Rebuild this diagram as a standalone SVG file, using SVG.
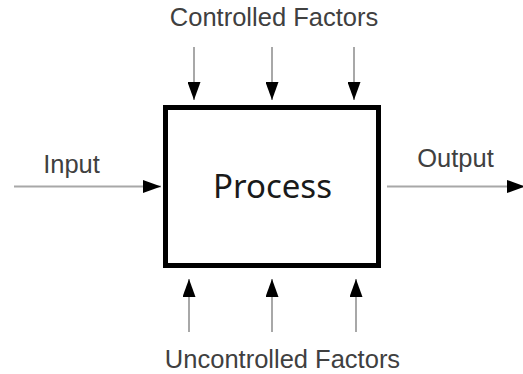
<svg xmlns="http://www.w3.org/2000/svg" width="523" height="374" viewBox="0 0 523 374">
<style>
.lbl{font-family:"Liberation Sans",Arial,sans-serif;font-size:25.5px;fill:#404040;text-anchor:middle}
.proc{font-family:"Noto Sans","Open Sans",sans-serif;font-size:33px;fill:#1a1a1a;text-anchor:middle}
.box{fill:#fff;stroke:#000;stroke-width:5}
.conn{stroke:#a8a8a8;stroke-width:2;fill:none;marker-end:url(#arr)}
</style>
<defs>
<marker id="arr" viewBox="0 0 18 13" refX="18" refY="6.5" markerWidth="18" markerHeight="13" markerUnits="userSpaceOnUse" orient="auto">
<path d="M0,0 L18,6.5 L0,13 z" fill="#000"/>
</marker>
</defs>
<rect width="523" height="374" fill="#fff"/>
<g id="connectors">
<line class="conn" x1="14" y1="186.5" x2="161" y2="186.5"/>
<line class="conn" x1="387" y1="186.5" x2="525" y2="186.5"/>
<line class="conn" x1="194" y1="47" x2="194" y2="100"/>
<line class="conn" x1="272" y1="47" x2="272" y2="100"/>
<line class="conn" x1="354" y1="47" x2="354" y2="100"/>
<line class="conn" x1="189" y1="332" x2="189" y2="279"/>
<line class="conn" x1="272" y1="332" x2="272" y2="279"/>
<line class="conn" x1="356" y1="332" x2="356" y2="279"/>
</g>
<g id="process">
<rect class="box" x="165.5" y="107.5" width="213" height="158"/>
<text class="proc" x="272.5" y="198">Process</text>
</g>
<g id="controlled">
<text class="lbl" x="274" y="26">Controlled Factors</text>
</g>
<g id="uncontrolled">
<text class="lbl" x="282.5" y="368">Uncontrolled Factors</text>
</g>
<g id="input">
<text class="lbl" x="71.5" y="173">Input</text>
</g>
<g id="output">
<text class="lbl" x="455.5" y="167">Output</text>
</g>
</svg>
